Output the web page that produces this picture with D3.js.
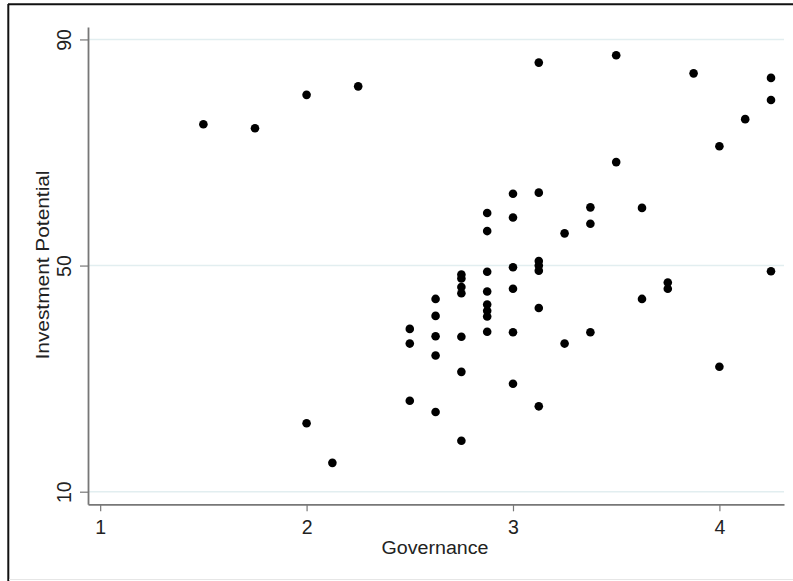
<!DOCTYPE html>
<html>
<head>
<meta charset="utf-8">
<script src="https://cdn.jsdelivr.net/npm/d3@7"></script>
<style>
  html, body { margin: 0; padding: 0; background: #fff; }
  svg { display: block; }
  text { font-family: "Liberation Sans", Arial, sans-serif; fill: #222; }
</style>
</head>
<body>
<svg id="chart" width="793" height="581"></svg>
<script>
// ---- data ----
const governance = [
  1.5, 1.75, 2, 2.25, 2, 2.125,
  2.5, 2.5, 2.5,
  2.625, 2.625, 2.625, 2.625, 2.625,
  2.75, 2.75, 2.75, 2.75, 2.75, 2.75, 2.75,
  2.875, 2.875, 2.875, 2.875, 2.875, 2.875, 2.875, 2.875,
  3, 3, 3, 3, 3, 3,
  3.125, 3.125, 3.125, 3.125, 3.125, 3.125, 3.125,
  3.25, 3.25,
  3.375, 3.375, 3.375,
  3.5, 3.5,
  3.625, 3.625,
  3.75, 3.75,
  3.875,
  4, 4,
  4.125,
  4.25, 4.25, 4.25
];
const investment = [
  75.0, 74.3, 80.2, 81.7, 22.1, 15.1,
  38.8, 36.2, 26.1,
  44.1, 41.1, 37.5, 34.1, 24.1,
  48.4, 47.7, 46.2, 45.1, 37.4, 31.2, 19.0,
  59.3, 56.1, 48.9, 45.4, 43.1, 42.0, 41.0, 38.3,
  62.7, 58.5, 49.7, 45.9, 38.2, 29.1,
  85.9, 62.9, 50.8, 50.0, 49.1, 42.5, 25.1,
  55.7, 36.2,
  60.3, 57.4, 38.2,
  87.2, 68.3,
  60.2, 44.1,
  47.0, 45.9,
  84.0,
  71.1, 32.1,
  75.9,
  83.2, 79.3, 49.0
];
const xTicks = [1, 2, 3, 4];
const yTicks = [10, 50, 90];
const xTitle = "Governance";
const yTitle = "Investment Potential";

// ---- layout ----
const plot = { left: 88, right: 784, top: 27, bottom: 504.3 };
const xDomain = [0.941, 4.313];
const yDomain = [7.77, 92.2];

const svg = d3.select("#chart");

// frame
svg.append("line").attr("x1", 8).attr("x2", 793).attr("y1", 4.3).attr("y2", 4.3)
  .attr("stroke", "#111").attr("stroke-width", 2);
svg.append("line").attr("x1", 8.3).attr("x2", 8.3).attr("y1", 4).attr("y2", 581)
  .attr("stroke", "#111").attr("stroke-width", 2);
svg.append("line").attr("x1", 9).attr("x2", 793).attr("y1", 579.5).attr("y2", 579.5)
  .attr("stroke", "#e6e6e6").attr("stroke-width", 1);

const x = d3.scaleLinear().domain(xDomain).range([plot.left, plot.right]);
const y = d3.scaleLinear().domain(yDomain).range([plot.bottom, plot.top]);

// gridlines
svg.append("g").selectAll("line").data(yTicks).join("line")
  .attr("x1", plot.left).attr("x2", plot.right)
  .attr("y1", d => y(d)).attr("y2", d => y(d))
  .attr("stroke", "#e2eef0").attr("stroke-width", 1.6);

// x axis
const gx = svg.append("g").attr("transform", `translate(0,${plot.bottom})`)
  .call(d3.axisBottom(x).tickValues(xTicks).tickFormat(d3.format("d"))
    .tickSize(7).tickSizeOuter(0).tickPadding(9));
gx.select(".domain").attr("stroke", "#777").attr("stroke-width", 1.8);
gx.selectAll(".tick line").attr("stroke", "#777").attr("stroke-width", 1.2);
gx.selectAll(".tick text").attr("font-size", 19.5).attr("fill", "#222")
  .attr("font-family", "Liberation Sans, Arial, sans-serif");

// y axis
const gy = svg.append("g").attr("transform", `translate(${plot.left},0)`)
  .call(d3.axisLeft(y).tickValues(yTicks).tickFormat(d3.format("d"))
    .tickSize(8).tickSizeOuter(0));
gy.select(".domain").attr("stroke", "#777").attr("stroke-width", 1.8);
gy.selectAll(".tick line").attr("stroke", "#777").attr("stroke-width", 1.2);
gy.selectAll(".tick text")
  .attr("x", null).attr("dy", null)
  .attr("transform", "translate(-17,0) rotate(-90)")
  .attr("text-anchor", "middle")
  .attr("font-size", 19.5).attr("fill", "#222")
  .attr("font-family", "Liberation Sans, Arial, sans-serif");

// titles
svg.append("text")
  .attr("x", 435)
  .attr("y", 554)
  .attr("text-anchor", "middle")
  .attr("font-size", 18)
  .attr("textLength", 107).attr("lengthAdjust", "spacingAndGlyphs")
  .text(xTitle);

svg.append("text")
  .attr("transform", "translate(49,265) rotate(-90)")
  .attr("text-anchor", "middle")
  .attr("font-size", 18.5)
  .attr("textLength", 189).attr("lengthAdjust", "spacingAndGlyphs")
  .text(yTitle);

// points
const pts = governance.map((g, i) => ({ g, v: investment[i] }));
svg.append("g").selectAll("circle").data(pts).join("circle")
  .attr("cx", d => x(d.g))
  .attr("cy", d => y(d.v))
  .attr("r", 4.3)
  .attr("fill", "#000");
</script>
</body>
</html>
